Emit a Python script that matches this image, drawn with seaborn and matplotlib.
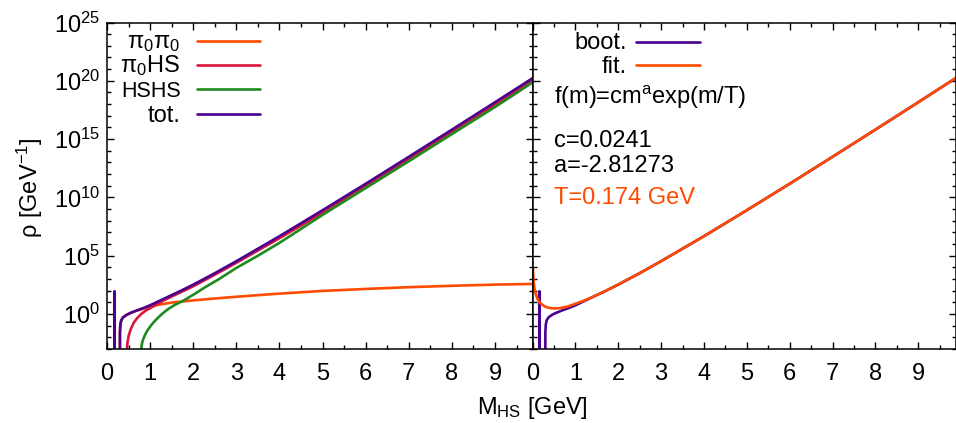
import numpy as np
import pandas as pd
import matplotlib
matplotlib.use("Agg")
import matplotlib.pyplot as plt
import seaborn as sns
from matplotlib.lines import Line2D
from matplotlib.ticker import FixedLocator, MultipleLocator, NullFormatter

# ---------------- data (log10 of rho) ----------------
spike_m = [0.155, 0.155]
spike_log = [-3.5, 2.0]

tot_m = [0.30, 0.30, 0.31, 0.33, 0.37, 0.45, 0.55, 0.70, 0.85, 1.00, 1.20, 1.40,
         1.70, 2.00, 2.50, 3.00, 4.00, 5.00, 6.00, 7.00, 8.00, 9.00, 9.90]
tot_log = [-3.5, -1.6, -0.9, -0.55, -0.30, -0.08, 0.10, 0.32, 0.52, 0.75, 1.10, 1.45,
           1.97, 2.52, 3.50, 4.53, 6.67, 8.90, 11.17, 13.48, 15.81, 18.16, 20.29]

pipi_m = [0.30, 0.30, 0.31, 0.33, 0.37, 0.45, 0.55, 0.70, 0.85, 1.00, 1.20, 1.50,
          2.00, 2.50, 3.00, 4.00, 5.00, 6.00, 7.00, 8.00, 9.00, 9.90]
pipi_log = [-3.5, -1.6, -0.9, -0.55, -0.30, -0.08, 0.10, 0.30, 0.47, 0.62, 0.80, 0.98,
            1.17, 1.33, 1.48, 1.75, 1.98, 2.15, 2.30, 2.42, 2.52, 2.58]

pihs_m = [0.46, 0.47, 0.50, 0.55, 0.62, 0.70, 0.80, 0.90, 1.00, 1.20, 1.50, 2.00,
          2.50, 3.00, 4.00, 5.00, 6.00, 7.00, 8.00, 9.00, 9.90]
pihs_log = [-3.5, -2.6, -1.9, -1.3, -0.75, -0.35, 0.02, 0.30, 0.50, 0.95, 1.50, 2.38,
            3.37, 4.39, 6.50, 8.68, 11.00, 13.28, 15.60, 17.96, 20.10]

hshs_m = [0.79, 0.795, 0.81, 0.84, 0.88, 0.94, 1.02, 1.12, 1.25, 1.40, 1.57, 1.75,
          2.00, 2.30, 2.60, 3.00, 3.50, 4.00, 5.00, 6.00, 7.00, 8.00, 9.00, 9.90]
hshs_log = [-3.5, -3.0, -2.55, -2.15, -1.80, -1.40, -0.98, -0.55, -0.08, 0.38, 0.78, 1.10,
            1.65, 2.35, 3.00, 3.95, 5.00, 6.10, 8.50, 10.80, 13.10, 15.43, 17.75, 19.93]

fit_m = [0.01, 0.015, 0.02, 0.03, 0.045, 0.065, 0.09, 0.12, 0.16, 0.21, 0.28, 0.36,
         0.45, 0.55, 0.65, 0.80, 1.00, 1.20, 1.40, 1.70, 2.00, 2.50, 3.00, 4.00,
         5.00, 6.00, 7.00, 8.00, 9.00, 9.90]
fit_log = [3.95, 3.50, 3.15, 2.70, 2.25, 1.85, 1.55, 1.27, 1.03, 0.85, 0.66, 0.55,
           0.49, 0.48, 0.52, 0.62, 0.88, 1.15, 1.46, 1.97, 2.53, 3.50, 4.53, 6.67,
           8.90, 11.17, 13.48, 15.81, 18.16, 20.29]

left_labels = ["π$_0$π$_0$", "π$_0$HS", "HSHS", "tot."]
right_labels = ["boot.", "fit."]
fit_text = ["f(m)=cm$^{\\mathrm{a}}$exp(m/T)", "c=0.0241", "a=-2.81273", "T=0.174 GeV"]

C_ORANGE = "#ff4a00"
C_CRIMSON = "#dc143c"
C_GREEN = "#1f8a1f"
C_PURPLE = "#4b0090"

# ---------------- style ----------------
sns.set_theme(style="ticks")
plt.rcParams['font.family'] = ['Liberation Sans', 'DejaVu Sans']
plt.rcParams['mathtext.fontset'] = 'custom'
plt.rcParams['mathtext.rm'] = 'Liberation Sans'
plt.rcParams['mathtext.it'] = 'Liberation Sans:italic'
plt.rcParams['mathtext.bf'] = 'Liberation Sans:bold'
plt.rcParams['text.color'] = 'black'
plt.rcParams['axes.labelcolor'] = 'black'
plt.rcParams['xtick.color'] = 'black'
plt.rcParams['ytick.color'] = 'black'
FS = 17

fig = plt.figure(figsize=(9.56, 4.23), dpi=100)
W, H = 956.0, 423.0
top, bot = 22.5, 349.0
axL = fig.add_axes([107 / W, 1 - bot / H, (532.5 - 107) / W, (bot - top) / H])
axR = fig.add_axes([532.5 / W, 1 - bot / H, (955.5 - 532.5) / W, (bot - top) / H])


def df(m, lg):
    return pd.DataFrame({"m": m, "rho": np.power(10.0, np.asarray(lg, dtype=float))})


for ax in (axL, axR):
    ax.set_yscale("log")

LW = 1.9
sns.lineplot(data=df(pipi_m, pipi_log), x="m", y="rho", ax=axL, color=C_ORANGE, lw=LW,
             sort=False, estimator=None)
sns.lineplot(data=df(pihs_m, pihs_log), x="m", y="rho", ax=axL, color=C_CRIMSON, lw=LW,
             sort=False, estimator=None)
sns.lineplot(data=df(hshs_m, hshs_log), x="m", y="rho", ax=axL, color=C_GREEN, lw=LW,
             sort=False, estimator=None)
sns.lineplot(data=df(tot_m, tot_log), x="m", y="rho", ax=axL, color=C_PURPLE, lw=LW,
             sort=False, estimator=None)
sns.lineplot(data=df(spike_m, spike_log), x="m", y="rho", ax=axL, color=C_PURPLE, lw=2.2,
             sort=False, estimator=None)

sns.lineplot(data=df(tot_m, tot_log), x="m", y="rho", ax=axR, color=C_PURPLE, lw=LW,
             sort=False, estimator=None)
sns.lineplot(data=df(spike_m, spike_log), x="m", y="rho", ax=axR, color=C_PURPLE, lw=2.2,
             sort=False, estimator=None)
sns.lineplot(data=df(fit_m, fit_log), x="m", y="rho", ax=axR, color=C_ORANGE, lw=LW,
             sort=False, estimator=None)

major_y = [10.0 ** k for k in range(0, 26, 5)]
minor_y = [10.0 ** k for k in range(-3, 26) if k % 5 != 0]
for ax in (axL, axR):
    ax.set_xlim(0, 9.87)
    ax.set_ylim(1e-3, 1e25)
    ax.yaxis.set_major_locator(FixedLocator(major_y))
    ax.yaxis.set_minor_locator(FixedLocator(minor_y))
    ax.yaxis.set_minor_formatter(NullFormatter())
    ax.xaxis.set_major_locator(MultipleLocator(1))
    ax.xaxis.set_minor_locator(MultipleLocator(0.5))
    ax.tick_params(which="both", direction="in", top=True, bottom=True, left=True, right=True,
                   colors="black", labelcolor="black", width=1.0)
    ax.tick_params(which="major", length=5, labelsize=FS)
    ax.tick_params(which="minor", length=3)
    ax.tick_params(axis="x", which="major", pad=10)
    ax.tick_params(axis="y", which="major", pad=5)
    ax.set_xlabel("")
    ax.set_ylabel("")
    for s in ax.spines.values():
        s.set_color("black")
        s.set_linewidth(1.1)
    ax.set_facecolor("white")

axR.tick_params(labelleft=False)

# legend-like keys (gnuplot style: right-aligned text, then a sample line)
def px_to_axes_y(ypx):
    return 1 - (ypx - top) / (bot - top)

left_colors = [C_ORANGE, C_CRIMSON, C_GREEN, C_PURPLE]
rows = [40.7, 65.0, 89.3, 114.0]
for lab, col, yp in zip(left_labels, left_colors, rows):
    ya = px_to_axes_y(yp)
    yb = px_to_axes_y(yp + 7.5)
    axL.text(0.173, yb, lab, transform=axL.transAxes, ha="right", va="baseline",
             fontsize=(FS - 1.5) if lab == "HSHS" else FS, color="black")
    axL.add_line(Line2D([0.211, 0.359], [ya, ya], transform=axL.transAxes,
                        color=col, lw=LW))

right_colors = [C_PURPLE, C_ORANGE]
rows_r = [41.7, 65.0]
for lab, col, yp in zip(right_labels, right_colors, rows_r):
    ya = px_to_axes_y(yp)
    yb = px_to_axes_y(yp + 7.5)
    axR.text(0.223, yb, lab, transform=axR.transAxes, ha="right", va="baseline",
             fontsize=FS, color="black")
    axR.add_line(Line2D([0.245, 0.397], [ya, ya], transform=axR.transAxes,
                        color=col, lw=LW))

text_rows = [104.0, 147.3, 172.3, 204.0]
text_cols = ["black", "black", "black", C_ORANGE]
for t, yp, col in zip(fit_text, text_rows, text_cols):
    axR.text(0.052, px_to_axes_y(yp), t, transform=axR.transAxes, ha="left",
             va="baseline", fontsize=FS, color=col)

fig.text(532 / W, 1 - 414 / H, "M$_{\\mathrm{HS}}$ [GeV]", ha="center", va="baseline",
         fontsize=FS, color="black")
fig.text(30 / W, 1 - 188 / H, "ρ [GeV$^{-1}$]", ha="center", va="center",
         rotation=90, fontsize=FS, color="black")

fig.savefig("out.png", dpi=100, facecolor="white")
